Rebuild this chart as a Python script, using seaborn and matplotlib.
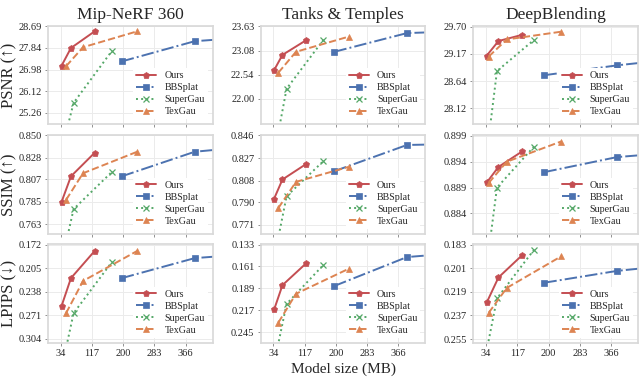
import numpy as np
import pandas as pd
import matplotlib
matplotlib.use("Agg")
import matplotlib.pyplot as plt
import seaborn as sns

methods = ["Ours", "BBSplat", "SuperGau", "TexGau"]
datasets = ["Mip-NeRF 360", "Tanks & Temples", "DeepBlending"]
metrics = ["PSNR (↑)", "SSIM (↑)", "LPIPS (↓)"]

# model sizes (MB), one list per method, order = methods
mip_sizes = [[36, 61, 124], [196, 390, 493], [43, 68, 169], [48, 93, 237]]
tnt_sizes = [[36, 58, 121], [196, 389, 493], [40, 69, 167], [47, 94, 234]]
db_sizes = [[36, 67, 130], [189, 382, 484], [30, 63, 161], [41, 89, 233]]

mip_psnr = [[27.13, 27.83, 28.49], [27.30, 28.10, 28.21], [24.18, 25.66, 27.70], [27.11, 27.86, 28.49]]
mip_ssim = [[0.785, 0.810, 0.833], [0.810, 0.834, 0.8375], [0.737, 0.778, 0.814], [0.787, 0.813, 0.834]]
mip_lpips = [[0.258, 0.219, 0.181], [0.219, 0.191, 0.187], [0.329, 0.268, 0.197], [0.268, 0.223, 0.181]]

tnt_psnr = [[22.65, 22.99, 23.32], [23.06, 23.48, 23.51], [20.93, 22.23, 23.33], [22.59, 23.06, 23.40]]
tnt_ssim = [[0.793, 0.809, 0.822], [0.816, 0.838, 0.8386], [0.749, 0.795, 0.8245], [0.785, 0.807, 0.8196]]
tnt_lpips = [[0.216, 0.185, 0.157], [0.186, 0.149, 0.145], [0.276, 0.209, 0.159], [0.233, 0.196, 0.164]]

db_psnr = [[29.14, 29.42, 29.54], [28.76, 28.95, 29.03], [26.90, 28.84, 29.44], [29.12, 29.45, 29.60]]
db_ssim = [[0.8900, 0.8930, 0.8960], [0.8920, 0.8949, 0.8955], [0.8706, 0.8890, 0.8969], [0.8899, 0.8940, 0.8979]]
db_lpips = [[0.227, 0.208, 0.191], [0.212, 0.203, 0.200], [0.272, 0.224, 0.187], [0.235, 0.216, 0.192]]

x_ticks = [34, 117, 200, 283, 366]

mip_psnr_ticks = ["25.26", "26.12", "26.98", "27.84", "28.69"]
tnt_psnr_ticks = ["22.00", "22.54", "23.08", "23.63"]
db_psnr_ticks = ["28.12", "28.64", "29.17", "29.70"]
mip_ssim_ticks = ["0.763", "0.785", "0.807", "0.828", "0.850"]
tnt_ssim_ticks = ["0.771", "0.790", "0.808", "0.827", "0.846"]
db_ssim_ticks = ["0.884", "0.889", "0.894", "0.899"]
mip_lpips_ticks = ["0.172", "0.205", "0.238", "0.271", "0.304"]
tnt_lpips_ticks = ["0.133", "0.161", "0.189", "0.217", "0.245"]
db_lpips_ticks = ["0.183", "0.201", "0.219", "0.237", "0.255"]

sizes = [mip_sizes, tnt_sizes, db_sizes]
values = [[mip_psnr, tnt_psnr, db_psnr],
          [mip_ssim, tnt_ssim, db_ssim],
          [mip_lpips, tnt_lpips, db_lpips]]
yticks = [[mip_psnr_ticks, tnt_psnr_ticks, db_psnr_ticks],
          [mip_ssim_ticks, tnt_ssim_ticks, db_ssim_ticks],
          [mip_lpips_ticks, tnt_lpips_ticks, db_lpips_ticks]]

# axis limits (bottom, top) per panel
ylims = [[(24.81, 28.72), (21.43, 23.65), (27.81, 29.72)],
         [(0.754, 0.8505), (0.7635, 0.8465), (0.8801, 0.8992)],
         [(0.3097, 0.1715), (0.259, 0.1325), (0.258, 0.1826)]]

pal = sns.color_palette("deep")
styles = {
    "Ours": dict(color=pal[3], marker="p", linestyle="-"),
    "BBSplat": dict(color=pal[0], marker="s", linestyle="-."),
    "SuperGau": dict(color=pal[2], marker="x", linestyle=":"),
    "TexGau": dict(color=pal[1], marker="^", linestyle="--"),
}

sns.set_theme(style="whitegrid")
plt.rcParams["font.family"] = ["Liberation Serif", "DejaVu Serif"]
plt.rcParams["axes.edgecolor"] = "0.85"
plt.rcParams["grid.color"] = "0.92"
plt.rcParams["grid.linewidth"] = 0.7

fig, axes = plt.subplots(3, 3, figsize=(6.4, 3.78), dpi=100)
fig.subplots_adjust(left=0.075, right=0.997, top=0.9325, bottom=0.0926,
                    wspace=0.29, hspace=0.106)

for r in range(3):
    for c in range(3):
        ax = axes[r, c]
        for m, name in enumerate(methods):
            st = styles[name]
            sns.lineplot(x=sizes[c][m], y=values[r][c][m], ax=ax, label=name,
                         sort=False, estimator=None, linewidth=1.4,
                         markersize=5, markeredgecolor=st["color"],
                         markeredgewidth=0.9 if name == "SuperGau" else 0.5,
                         **st)
        ax.set_xlim(0, 438)
        ax.set_xticks(x_ticks)
        ax.set_ylim(*ylims[r][c])
        ax.set_yticks([float(t) for t in yticks[r][c]])
        ax.set_yticklabels(yticks[r][c])
        ax.tick_params(axis="both", labelsize=7.5, length=2.5, width=0.6,
                       color="0.5", labelcolor="0.15", pad=2)
        ax.tick_params(axis="x", bottom=True)
        ax.tick_params(axis="y", left=True)
        if r < 2:
            ax.set_xticklabels([])
        ax.set_xlabel("")
        ax.set_ylabel("")
        ax.legend(loc="lower right", fontsize=7.2, handlelength=2.0,
                  labelspacing=0.3, borderpad=0.3, frameon=True,
                  facecolor="white", edgecolor="none", framealpha=1)
        if r == 0:
            ax.set_title(datasets[c], fontsize=12.5, pad=5)
        if c == 0:
            ax.set_ylabel(metrics[r], fontsize=12)
            ax.yaxis.set_label_coords(-0.185, 0.5)

axes[2, 1].set_xlabel("Model size (MB)", fontsize=11, labelpad=3)

plt.savefig("out.png", dpi=100)
plt.close()
